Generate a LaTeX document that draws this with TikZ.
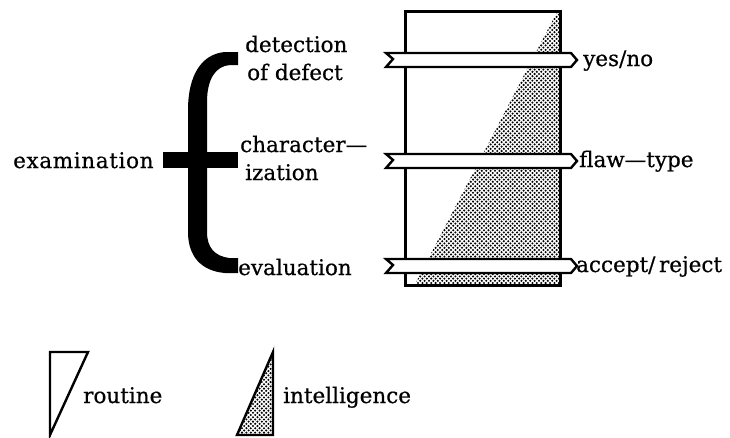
\documentclass[tikz,border=0pt]{standalone}
\usepackage{fontspec}
\setmainfont[FakeBold=0.6]{DejaVu Serif}
\usetikzlibrary{patterns}

% halftone screen used for the "intelligence" share
\pgfdeclarepatternformonly{screen}{\pgfqpoint{-1.3pt}{-1.3pt}}{\pgfqpoint{3.5pt}{3.5pt}}{\pgfqpoint{4.4pt}{4.4pt}}{%
  \pgfpathcircle{\pgfqpoint{0pt}{0pt}}{1.15pt}%
  \pgfpathcircle{\pgfqpoint{2.2pt}{2.2pt}}{1.15pt}%
  \pgfusepath{fill}%
}

\tikzset{
  lbl/.style={inner sep=0pt, anchor=base west, font=\fontsize{21.5}{26}\selectfont},
  dotted area/.style={pattern=screen, pattern color=black},
  frame/.style={draw=black, line width=3pt},
  ribbon/.style={draw=black, fill=white, line width=2.4pt, line join=miter},
}

\begin{document}
\begin{tikzpicture}[x=1pt, y=-1pt]
  \useasboundingbox (0,0) rectangle (730,437);

  % ---- the brace splitting "examination" into three tasks
  \fill[black] (238,52) -- (225,52) .. controls (201,54) and (188,76) .. (188,110)
     -- (188,232) .. controls (188,256) and (201,271) .. (225,273) -- (238,273)
     -- (238,258) -- (229,258) .. controls (215,256) and (207,248) .. (207,232)
     -- (207,102) .. controls (207,80) and (215,66) .. (230,65) -- (238,65) -- cycle;
  \fill[black] (163,152) rectangle (238,168);

  \node[lbl] (exam) at (13,168) {\addfontfeature{LetterSpace=3}examination};
  \node[lbl] (det1) at (245,52) {detection};
  \node[lbl] (det2) at (247,80) {of defect};
  \node[lbl] (char1) at (240,152) {character—};
  \node[lbl] (char2) at (245,180) {ization};
  \node[lbl] (eval) at (238,275) {evaluation};

  % ---- the column: routine part (white) and intelligence part (dotted)
  \fill[dotted area] (414,286) -- (560,286) -- (560,10) -- (558,10) -- cycle;
  \draw[frame] (405,11) rectangle (560,285);

  % ---- ribbons carrying the outcome of each task
  \foreach \yc/\nm in {60/r1, 161/r2, 266/r3}{
    \draw[ribbon] (386,\yc-7) -- (571,\yc-7) -- (577,\yc) -- (571,\yc+7)
      -- (386,\yc+7) -- (393,\yc-1) -- cycle;
    \coordinate (\nm) at (577,\yc);
  }
  \node[lbl] (yn) at (583,66) {yes/no};
  \node[lbl] (ft) at (579,167) {flaw—type};
  \node[lbl] (ar) at (576,272) {accept/\,reject};

  % ---- legend
  \draw[black, line width=2.4pt, fill=white, line join=miter]
    (50,352) -- (88,352) -- (50,435) -- cycle;
  \node[lbl] (rt) at (83,403) {routine};
  \fill[dotted area] (273,352) -- (273,435) -- (237,435) -- cycle;
  \draw[black, line width=2.4pt, line join=miter]
    (273,352) -- (273,435) -- (237,435) -- cycle;
  \node[lbl] (it) at (283,403) {intelligence};
\end{tikzpicture}
\end{document}
